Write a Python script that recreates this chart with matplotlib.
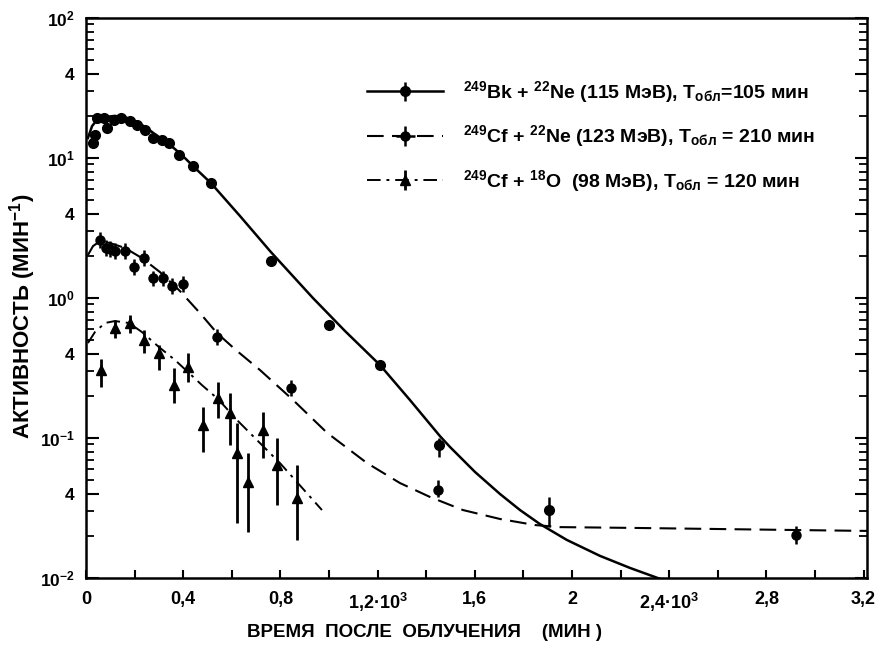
import matplotlib
matplotlib.use("Agg")
import matplotlib.pyplot as plt
from matplotlib.ticker import FixedLocator, LogLocator, NullFormatter
from matplotlib.legend_handler import HandlerTuple
import numpy as np

plt.rcParams['font.family'] = ['Liberation Sans', 'DejaVu Sans']
plt.rcParams['font.weight'] = 'bold'
plt.rcParams['mathtext.fontset'] = 'custom'
plt.rcParams['mathtext.bf'] = 'Liberation Sans:bold'
plt.rcParams['mathtext.rm'] = 'Liberation Sans:bold'
plt.rcParams['mathtext.default'] = 'bf'

# time after irradiation, 10^3 min ; activity, 1/min
# 249Bk + 22Ne
t1 = np.array([0.028, 0.036, 0.045, 0.073, 0.086, 0.114, 0.145, 0.182, 0.210, 0.242, 0.276,
               0.313, 0.343, 0.381, 0.440, 0.514, 0.761, 1.000, 1.210, 1.453, 1.905])
a1 = np.array([12.7, 14.6, 19.3, 19.2, 16.4, 18.7, 19.2, 18.4, 17.2, 15.8, 14.0,
               13.4, 12.7, 10.5, 8.77, 6.63, 1.84, 0.641, 0.332, 0.089, 0.0306])
a1_lo = a1.copy()
a1_hi = a1.copy()
a1_lo[-2:] = [0.0731, 0.0231]
a1_hi[-2:] = [0.100, 0.0379]

# 249Cf + 22Ne
t2 = np.array([0.059, 0.082, 0.100, 0.121, 0.162, 0.199, 0.237, 0.276, 0.317, 0.354, 0.399,
               0.540, 0.842, 1.447, 2.922])
a2 = np.array([2.6, 2.27, 2.24, 2.17, 2.17, 1.67, 1.92, 1.38, 1.38, 1.22, 1.25,
               0.53, 0.226, 0.0425, 0.0203])
a2_lo = np.array([2.28, 1.99, 1.96, 1.90, 1.90, 1.46, 1.68, 1.21, 1.21, 1.07, 1.10,
                  0.465, 0.198, 0.0379, 0.0175])
a2_hi = np.array([2.96, 2.59, 2.55, 2.47, 2.47, 1.90, 2.19, 1.57, 1.57, 1.39, 1.43,
                  0.604, 0.258, 0.0501, 0.0235])

# 249Cf + 18O
t3 = np.array([0.063, 0.121, 0.180, 0.237, 0.299, 0.361, 0.420, 0.480, 0.544, 0.593,
               0.623, 0.668, 0.727, 0.787, 0.867])
a3 = np.array([0.306, 0.608, 0.659, 0.501, 0.403, 0.239, 0.323, 0.124, 0.192, 0.150,
               0.0778, 0.0488, 0.114, 0.0641, 0.0371])
a3_lo = np.array([0.231, 0.518, 0.562, 0.405, 0.306, 0.178, 0.251, 0.0798, 0.139, 0.0891,
                  0.0247, 0.0214, 0.0719, 0.0332, 0.0187])
a3_hi = np.array([0.366, 0.697, 0.756, 0.590, 0.461, 0.316, 0.405, 0.167, 0.252, 0.210,
                  0.128, 0.0782, 0.154, 0.100, 0.0641])

# fitted curves as drawn in the figure
f1_t = [0.008, 0.025, 0.045, 0.074, 0.119, 0.160, 0.202, 0.243, 0.284, 0.325, 0.366, 0.407,
        0.449, 0.514, 0.634, 0.761, 0.934, 1.066, 1.210, 1.333, 1.457, 1.498, 1.601, 1.704,
        1.786, 1.868, 1.979, 2.115, 2.239, 2.374]
f1_a = [13.9, 16.9, 18.7, 19.6, 20.0, 19.6, 18.4, 16.7, 14.8, 13.2, 11.6, 10.0,
        8.48, 6.63, 3.85, 2.13, 1.0, 0.581, 0.332, 0.187, 0.103, 0.0863, 0.0572, 0.0398,
        0.0306, 0.0243, 0.0187, 0.0144, 0.0118, 0.0097]
f2_t = [0.008, 0.029, 0.058, 0.099, 0.160, 0.230, 0.305, 0.387, 0.469, 0.539, 0.617, 0.716,
        0.852, 0.992, 1.156, 1.292, 1.416, 1.551, 1.704, 1.848, 1.951, 2.251, 2.938, 3.214]
f2_a = [2.03, 2.35, 2.55, 2.47, 2.28, 1.93, 1.53, 1.12, 0.781, 0.562, 0.425, 0.306,
        0.187, 0.109, 0.0663, 0.0477, 0.0379, 0.0306, 0.0264, 0.0239, 0.0231, 0.0228, 0.0220, 0.0217]
f3_t = [0.008, 0.037, 0.078, 0.119, 0.177, 0.230, 0.300, 0.366, 0.428, 0.477, 0.543, 0.626,
        0.728, 0.798, 0.868, 0.971]
f3_a = [0.477, 0.572, 0.663, 0.685, 0.663, 0.572, 0.447, 0.361, 0.287, 0.239, 0.190, 0.132,
        0.0877, 0.0663, 0.0485, 0.0306]

labels = [r'$^{249}$Bk + $^{22}$Ne (115 МэВ), T$_{обл}$=105 мин',
          r'$^{249}$Cf + $^{22}$Ne (123 МэВ), T$_{обл}$ = 210 мин',
          r'$^{249}$Cf + $^{18}$O  (98 МэВ), T$_{обл}$ = 120 мин']

xticks = [0, 0.4, 0.8, 1.2, 1.6, 2.0, 2.4, 2.8, 3.2]
xticklabels = ['0', '0,4', '0,8', r'1,2·10$^3$', '1,6', '2', r'2,4·10$^3$', '2,8', '3,2']
yticks = [1e-2, 4e-2, 1e-1, 4e-1, 1, 4, 10, 40, 100]
yticklabels = [r'10$^{-2}$', '4', r'10$^{-1}$', '4', r'10$^{0}$', '4', r'10$^{1}$', '4', r'10$^{2}$']

fig = plt.figure(figsize=(8.81, 6.51), dpi=100)
ax = fig.add_axes([0.0976, 0.1121, 0.8865, 0.8602])

l1, = ax.plot(f1_t, f1_a, color='k', lw=1.8)
l2, = ax.plot(f2_t, f2_a, color='k', lw=1.5, dashes=(8, 4))
l3, = ax.plot(f3_t, f3_a, color='k', lw=1.4, dashes=(7, 3, 1.5, 3))

e1 = ax.errorbar(t1, a1, yerr=[a1 - a1_lo, a1_hi - a1], fmt='o', color='k', ms=7,
                 elinewidth=1.8, capsize=0)
e2 = ax.errorbar(t2, a2, yerr=[a2 - a2_lo, a2_hi - a2], xerr=0.016, fmt='o', color='k',
                 ms=6.5, elinewidth=1.8, capsize=0)
e3 = ax.errorbar(t3, a3, yerr=[a3 - a3_lo, a3_hi - a3], fmt='^', color='k', ms=7.5,
                 elinewidth=2.0, capsize=0)

ax.set_yscale('log')
ax.set_xlim(0, 3.214)
ax.set_ylim(1e-2, 1e2)

ax.xaxis.set_major_locator(FixedLocator(xticks))
ax.set_xticklabels(xticklabels)
ax.xaxis.set_minor_locator(FixedLocator(np.arange(0.2, 3.2, 0.4)))
ax.yaxis.set_major_locator(FixedLocator(yticks))
ax.set_yticklabels(yticklabels)
ax.yaxis.set_minor_locator(LogLocator(base=10, subs=(2, 3, 5, 6, 7, 8, 9)))
ax.yaxis.set_minor_formatter(NullFormatter())

ax.tick_params(axis='x', which='both', direction='in', length=6, width=1.5, pad=9,
               labelsize=13)
ax.tick_params(axis='y', which='major', direction='in', length=9, width=1.5, pad=8,
               labelsize=12.5, right=True)
ax.tick_params(axis='y', which='minor', direction='in', length=6, width=1.3, right=True)
for s in ax.spines.values():
    s.set_linewidth(1.8)

ax.set_ylabel(r'АКТИВНОСТЬ (МИН$^{-1}$)', fontsize=16, fontweight='bold')
ax.yaxis.set_label_coords(-0.062, 0.468)
ax.set_xlabel('ВРЕМЯ  ПОСЛЕ  ОБЛУЧЕНИЯ    (МИН )', fontsize=13.5, fontweight='bold')
ax.xaxis.set_label_coords(0.434, -0.082)

ax.legend([(l1, e1), (l2, e2), (l3, e3)], labels,
          handler_map={tuple: HandlerTuple(ndivide=1)},
          loc='upper left', bbox_to_anchor=(0.338, 0.922), frameon=False,
          handlelength=3.9, handletextpad=1.0, labelspacing=0.95, fontsize=14)

fig.savefig('out.png', dpi=100)
